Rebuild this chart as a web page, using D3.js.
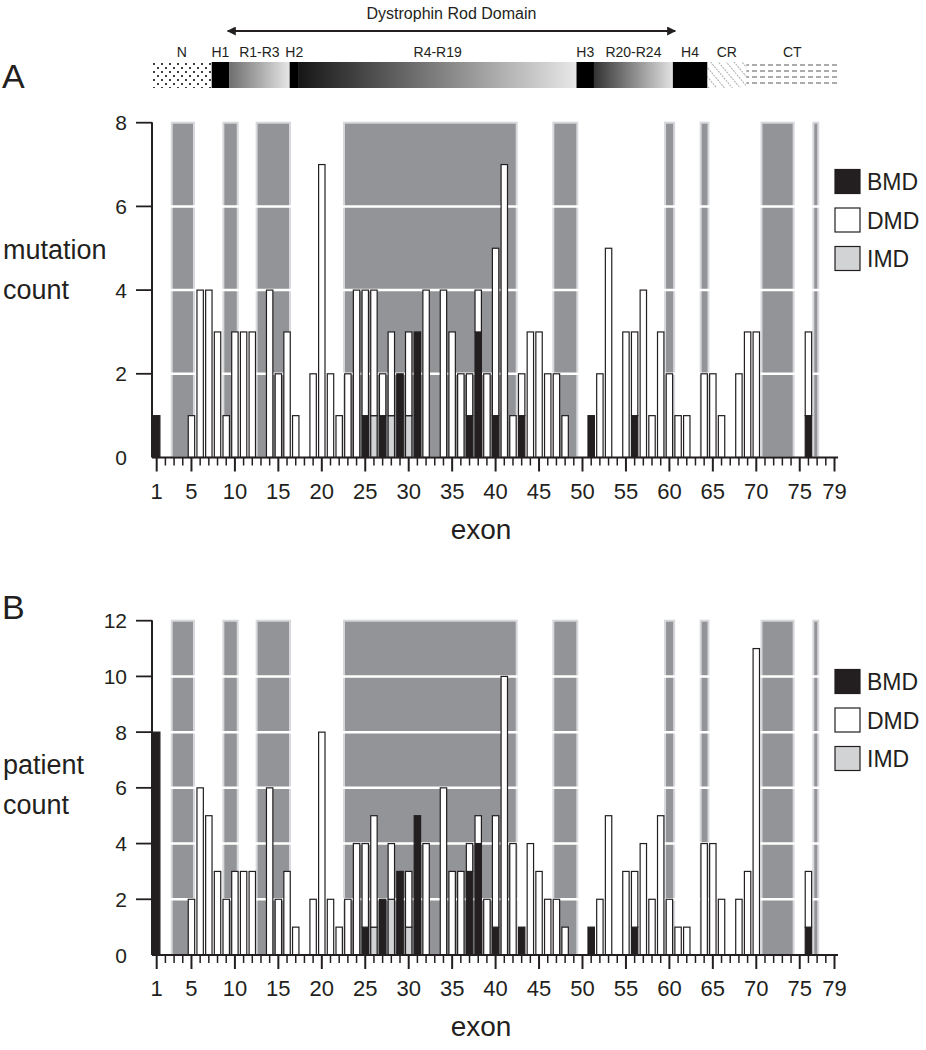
<!DOCTYPE html>
<html><head><meta charset="utf-8">
<script src="https://cdn.jsdelivr.net/npm/d3@7"></script>
<style>body{margin:0;background:#fff}svg{display:block;font-family:"Liberation Sans",Arial,Helvetica,sans-serif}</style>
</head><body><svg id="chart" width="926" height="1050"></svg>
<script>
// ---------- DATA ----------
const exons = d3.range(1, 80); // exon 1..79
const xTickLabels = [1,5,10,15,20,25,30,35,40,45,50,55,60,65,70,75,79];
const seriesNames = ["BMD","DMD","IMD"];

// Panel A : mutation count per exon
const mutBMD = [1,0,0,0,0,0,0,0,0,0, 0,0,0,0,0,0,0,0,0,0, 0,0,0,0,1,0,1,0,2,0,
                3,0,0,0,0,0,1,3,0,1, 0,0,1,0,0,0,0,0,0,0, 1,0,0,0,0,1,0,0,0,0,
                0,0,0,0,0,0,0,0,0,0, 0,0,0,0,0,1,0,0,0];
const mutIMD = [0,0,0,0,0,0,0,0,0,0, 0,0,0,0,0,0,0,0,0,0, 0,0,0,0,0,1,0,1,0,1,
                0,0,0,0,0,0,0,0,0,0, 0,0,0,0,0,0,0,0,0,0, 0,0,0,0,0,0,0,0,0,0,
                0,0,0,0,0,0,0,0,0,0, 0,0,0,0,0,0,0,0,0];
const mutDMD = [0,0,0,0,1,4,4,3,1,3, 3,3,0,4,2,3,1,0,2,7, 2,1,2,4,3,3,1,2,0,2,
                0,4,0,4,3,2,1,1,2,4, 7,1,1,3,3,2,2,1,0,0, 0,2,5,0,3,2,4,1,3,2,
                1,1,0,2,2,1,0,2,3,3, 0,0,0,0,0,2,0,0,0];
const mutTicks = [0,2,4,6,8];

// Panel B : patient count per exon
const patBMD = [8,0,0,0,0,0,0,0,0,0, 0,0,0,0,0,0,0,0,0,0, 0,0,0,0,1,0,2,0,3,0,
                5,0,0,0,0,0,3,4,0,1, 0,0,1,0,0,0,0,0,0,0, 1,0,0,0,0,1,0,0,0,0,
                0,0,0,0,0,0,0,0,0,0, 0,0,0,0,0,1,0,0,0];
const patIMD = [0,0,0,0,0,0,0,0,0,0, 0,0,0,0,0,0,0,0,0,0, 0,0,0,0,0,1,0,2,0,1,
                0,0,0,0,0,0,0,0,0,0, 0,0,0,0,0,0,0,0,0,0, 0,0,0,0,0,0,0,0,0,0,
                0,0,0,0,0,0,0,0,0,0, 0,0,0,0,0,0,0,0,0];
const patDMD = [0,0,0,0,2,6,5,3,2,3, 3,3,0,6,2,3,1,0,2,8, 2,1,2,4,3,4,0,2,0,2,
                0,4,0,6,3,3,1,1,2,4, 10,4,0,4,3,2,2,1,0,0, 0,2,5,0,3,2,4,2,5,2,
                1,1,0,4,4,2,0,2,3,11, 0,0,0,0,0,2,0,0,0];
const patTicks = [0,2,4,6,8,10,12];

// shaded exon ranges (start exon, end exon)
const bandStart = [2.73, 8.67, 12.5, 22.55, 46.64, 59.5, 63.6, 70.6, 76.56];
const bandEnd   = [5.29, 10.32, 16.34, 42.43, 49.4, 60.55, 64.5, 74.3, 77.13];

// protein domains (in exon units along the same axis)
const domainNames = ["N","H1","R1-R3","H2","R4-R19","H3","R20-R24","H4","CR","CT"];
const domainStart = [0.46, 7.33, 9.33, 16.30, 17.36, 49.31, 51.32, 60.40, 64.36, 68.85];
const domainEnd   = [7.33, 9.33, 16.30, 17.36, 49.31, 51.32, 60.40, 64.36, 68.85, 79.42];
const domainKind  = ["dots","hinge","rod","hinge","rod","hinge","rod","hinge","diag","dash"];
const rodStart = 9.17, rodEnd = 60.67;

// ---------- DRAW ----------
const svg = d3.select("#chart");
svg.append("rect").attr("width",926).attr("height",1050).attr("fill","#fff");
const x = d3.scaleLinear().domain([1,79]).range([156.7, 834.5]);
const axisLeft = 152, axisRight = 838;
const colors = {BMD:"#231f20", DMD:"#ffffff", IMD:"#d1d3d4"};

const defs = svg.append("defs");
// dots pattern
const pd = defs.append("pattern").attr("id","pDots").attr("patternUnits","userSpaceOnUse").attr("width",8).attr("height",8)
  .attr("x",152).attr("y",62);
pd.append("circle").attr("cx",2).attr("cy",2).attr("r",1).attr("fill","#000");
pd.append("circle").attr("cx",6).attr("cy",6).attr("r",1).attr("fill","#000");
// diagonal pattern ("\" direction)
const pg = defs.append("pattern").attr("id","pDiag").attr("patternUnits","userSpaceOnUse").attr("width",6).attr("height",6)
  .attr("patternTransform","rotate(-40)");
pg.append("line").attr("x1",0).attr("y1",0).attr("x2",0).attr("y2",6).attr("stroke","#333").attr("stroke-width",0.8).attr("stroke-dasharray","2,1");
// dash pattern
const ph = defs.append("pattern").attr("id","pDash").attr("patternUnits","userSpaceOnUse").attr("width",8).attr("height",6)
  .attr("x",0).attr("y",62);
ph.append("line").attr("x1",0).attr("y1",3).attr("x2",5).attr("y2",3).attr("stroke","#444").attr("stroke-width",0.9);
// rod gradients
const gradStops = {
  "R1-R3": ["#6e6e6e","#e6e6e6"],
  "R4-R19": ["#161616","#e8e8e8"],
  "R20-R24": ["#333","#e2e2e2"]
};
Object.entries(gradStops).forEach(([k,c],i)=>{
  const g = defs.append("linearGradient").attr("id","g"+i).attr("x1","0").attr("x2","1").attr("y1","0").attr("y2","0");
  g.append("stop").attr("offset","0").attr("stop-color",c[0]);
  g.append("stop").attr("offset","1").attr("stop-color",c[1]);
  gradStops[k].id = "g"+i;
});

// domain diagram
const dTop = 62, dH = 26;
const dg = svg.append("g");
domainNames.forEach((n,i)=>{
  const x0 = x(domainStart[i]), x1 = x(domainEnd[i]);
  let fill;
  if (domainKind[i]==="dots") fill="url(#pDots)";
  else if (domainKind[i]==="hinge") fill="#000";
  else if (domainKind[i]==="rod") fill="url(#"+gradStops[n].id+")";
  else if (domainKind[i]==="diag") fill="url(#pDiag)";
  else fill="url(#pDash)";
  dg.append("rect").attr("x",x0).attr("y",dTop).attr("width",x1-x0).attr("height",dH).attr("fill",fill);
  dg.append("text").attr("x",(x0+x1)/2).attr("y",57).attr("text-anchor","middle")
    .attr("font-size",14).attr("fill","#231f20").text(n);
});
// rod arrow
defs.append("marker").attr("id","arr").attr("viewBox","0 0 10 10").attr("refX",9).attr("refY",5)
  .attr("markerWidth",14).attr("markerHeight",9).attr("markerUnits","userSpaceOnUse").attr("orient","auto-start-reverse")
  .append("path").attr("d","M0,0L10,5L0,10z").attr("fill","#231f20");
dg.append("line").attr("x1",x(rodStart)).attr("x2",x(rodEnd)).attr("y1",31).attr("y2",31)
  .attr("stroke","#231f20").attr("stroke-width",2)
  .attr("marker-start","url(#arr)").attr("marker-end","url(#arr)");
dg.append("text").attr("x",(x(rodStart)+x(rodEnd))/2).attr("y",19).attr("text-anchor","middle")
  .attr("font-size",16).attr("fill","#231f20").text("Dystrophin Rod Domain");

function panel(opts){
  const {BMD,DMD,IMD,ticks,yMax,y0,y1,letter,letterY,label,labelY,legendY,xLabelY,exonY} = opts;
  const y = d3.scaleLinear().domain([0,yMax]).range([y0,y1]);
  const g = svg.append("g");
  // bands
  g.selectAll(".band").data(bandStart.map((s,i)=>[s,bandEnd[i]])).join("rect")
    .attr("x",d=>x(d[0])).attr("width",d=>x(d[1])-x(d[0]))
    .attr("y",y(yMax)).attr("height",y(0)-y(yMax))
    .attr("fill","#929497").attr("stroke","#d6d8db").attr("stroke-width",2);
  // white gridlines
  g.selectAll(".grid").data(ticks.filter(t=>t>0 && t<yMax)).join("line")
    .attr("x1",axisLeft).attr("x2",axisRight).attr("y1",d=>y(d)).attr("y2",d=>y(d))
    .attr("stroke","#fff").attr("stroke-width",2.5);
  // stacked bars
  const rows = exons.map((e,i)=>({exon:e, BMD:BMD[i], IMD:IMD[i], DMD:DMD[i]}));
  const stack = d3.stack().keys(["BMD","IMD","DMD"])(rows);
  const bw = 6.4;
  stack.forEach(layer=>{
    g.selectAll(".b"+layer.key).data(layer.filter(d=>d[1]>d[0])).join("rect")
      .attr("x",d=>x(d.data.exon)-bw/2).attr("width",bw)
      .attr("y",d=>y(d[1])).attr("height",d=>y(d[0])-y(d[1]))
      .attr("fill",colors[layer.key]).attr("stroke","#231f20").attr("stroke-width",1.2);
  });
  // y axis
  g.append("line").attr("x1",axisLeft).attr("x2",axisLeft).attr("y1",y(yMax)-0.5).attr("y2",y0)
    .attr("stroke","#231f20").attr("stroke-width",2);
  g.selectAll(".yt").data(ticks.filter(t=>t>0)).join("line")
    .attr("x1",axisLeft-16).attr("x2",axisLeft).attr("y1",d=>y(d)).attr("y2",d=>y(d))
    .attr("stroke","#231f20").attr("stroke-width",1.8);
  g.selectAll(".yl").data(ticks).join("text")
    .attr("x",127).attr("y",d=>y(d)+7.5).attr("text-anchor","end")
    .attr("font-size",21).attr("fill","#231f20").text(d=>d);
  // x axis
  g.append("line").attr("x1",axisLeft).attr("x2",axisRight).attr("y1",y0).attr("y2",y0)
    .attr("stroke","#231f20").attr("stroke-width",2);
  g.selectAll(".xt").data(exons).join("line")
    .attr("x1",d=>x(d)).attr("x2",d=>x(d)).attr("y1",y0)
    .attr("y2",d=>y0 + (xTickLabels.includes(d)?14:8))
    .attr("stroke","#231f20").attr("stroke-width",d=>xTickLabels.includes(d)?2:1.5);
  g.selectAll(".xl").data(xTickLabels).join("text")
    .attr("x",d=>x(d)).attr("y",xLabelY).attr("text-anchor","middle")
    .attr("font-size",22).attr("fill","#231f20").text(d=>d);
  g.append("text").attr("x",481).attr("y",exonY).attr("text-anchor","middle")
    .attr("font-size",28).attr("fill","#231f20").text("exon");
  // y label
  label.forEach((t,i)=>g.append("text").attr("x",3).attr("y",labelY+i*40)
    .attr("font-size",27).attr("fill","#231f20").text(t));
  g.append("text").attr("x",2).attr("y",letterY).attr("font-size",34).attr("fill","#231f20").text(letter);
  // legend
  seriesNames.forEach((s,i)=>{
    const ly = legendY + i*38.5;
    g.append("rect").attr("x",835).attr("y",ly-12).attr("width",25).attr("height",24)
      .attr("fill",colors[s]).attr("stroke","#231f20").attr("stroke-width",1.2);
    g.append("text").attr("x",867).attr("y",ly+8.5).attr("font-size",23).attr("fill","#231f20").text(s);
  });
}

panel({BMD:mutBMD,DMD:mutDMD,IMD:mutIMD,ticks:mutTicks,yMax:8,y0:457.5,y1:122.7,
  letter:"A",letterY:88,label:["mutation","count"],labelY:259,legendY:181.5,xLabelY:499,exonY:539});
panel({BMD:patBMD,DMD:patDMD,IMD:patIMD,ticks:patTicks,yMax:12,y0:955,y1:620.7,
  letter:"B",letterY:619,label:["patient","count"],labelY:774,legendY:681.5,xLabelY:996,exonY:1036});
</script></body></html>
